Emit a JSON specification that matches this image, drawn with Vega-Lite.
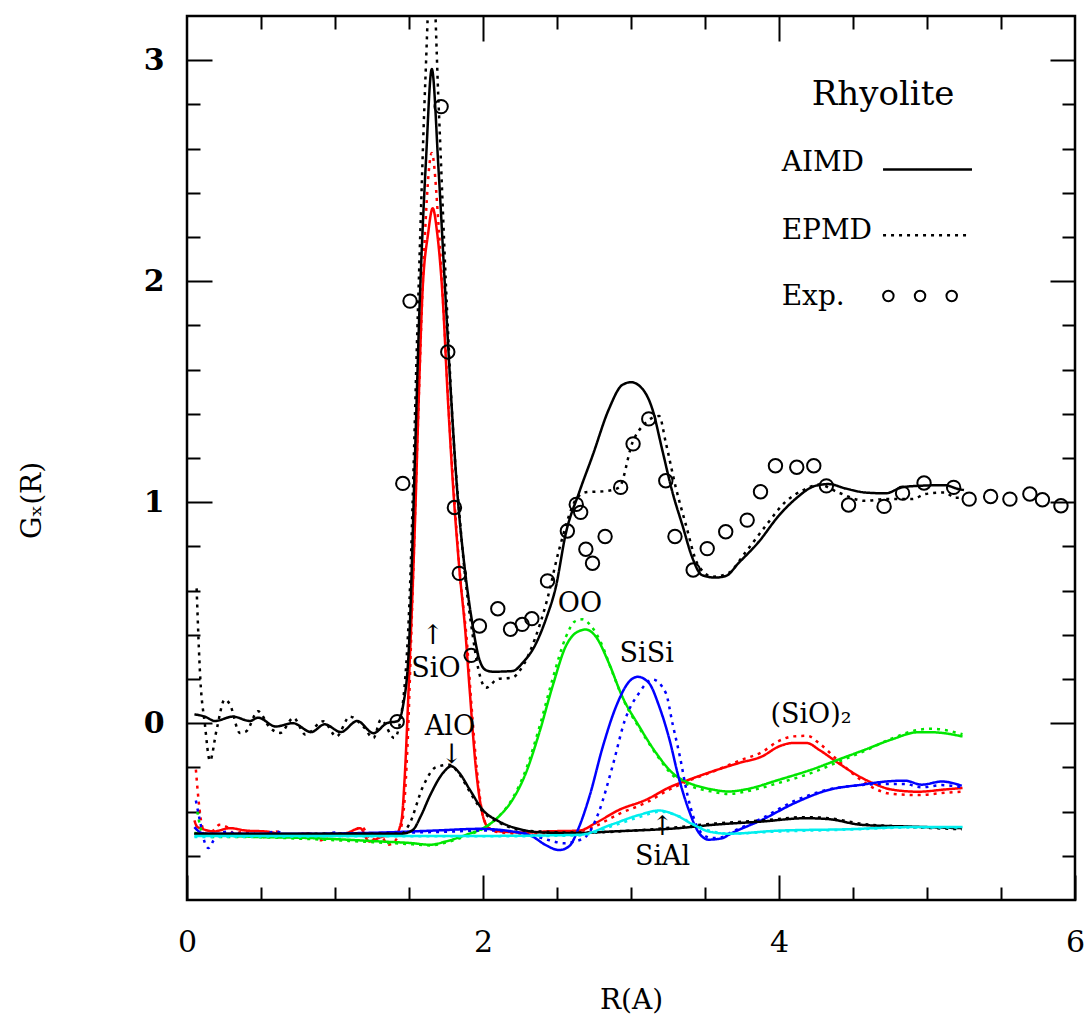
{
"$schema": "https://vega.github.io/schema/vega-lite/v6.json",
"width": 888, "height": 884,
"autosize": {"type": "none"},
"padding": {"left": 187, "top": 16, "right": 17, "bottom": 127},
"background": "white",
"config": {
  "view": {"stroke": "black", "strokeWidth": 2.5},
  "font": "DejaVu Serif",
  "axis": {"grid": false, "domain": false, "tickColor": "black", "tickWidth": 2, "labelColor": "black", "labelFont": "DejaVu Serif", "labelFontSize": 30, "titleFont": "DejaVu Serif", "titleFontSize": 28, "titleFontWeight": "normal", "titleColor": "black", "labelFlush": false, "labelOverlap": false}
},
"resolve": {"axis": {"x": "independent", "y": "independent"}},
"datasets": {
"lines": [
{"s":"SiO","m":"A","x":0.05,"y":-0.44},{"s":"SiO","m":"A","x":0.07,"y":-0.47},{"s":"SiO","m":"A","x":0.09,"y":-0.475},{"s":"SiO","m":"A","x":0.18,"y":-0.49},{"s":"SiO","m":"A","x":0.29,"y":-0.475},{"s":"SiO","m":"A","x":0.4,"y":-0.486},{"s":"SiO","m":"A","x":0.535,"y":-0.49},{"s":"SiO","m":"A","x":0.67,"y":-0.505},{"s":"SiO","m":"A","x":0.81,"y":-0.5},{"s":"SiO","m":"A","x":0.94,"y":-0.51},{"s":"SiO","m":"A","x":1.08,"y":-0.497},{"s":"SiO","m":"A","x":1.17,"y":-0.475},{"s":"SiO","m":"A","x":1.23,"y":-0.535},{"s":"SiO","m":"A","x":1.32,"y":-0.513},{"s":"SiO","m":"A","x":1.41,"y":-0.505},{"s":"SiO","m":"A","x":1.45,"y":-0.437},{"s":"SiO","m":"A","x":1.47,"y":-0.256},{"s":"SiO","m":"A","x":1.5,"y":0.2},{"s":"SiO","m":"A","x":1.54,"y":0.9},{"s":"SiO","m":"A","x":1.565,"y":1.45},{"s":"SiO","m":"A","x":1.589,"y":1.92},{"s":"SiO","m":"A","x":1.63,"y":2.22},{"s":"SiO","m":"A","x":1.66,"y":2.33},{"s":"SiO","m":"A","x":1.69,"y":2.22},{"s":"SiO","m":"A","x":1.728,"y":1.92},{"s":"SiO","m":"A","x":1.76,"y":1.5},{"s":"SiO","m":"A","x":1.8,"y":1.05},{"s":"SiO","m":"A","x":1.84,"y":0.7},{"s":"SiO","m":"A","x":1.88,"y":0.42},{"s":"SiO","m":"A","x":1.91,"y":0.15},{"s":"SiO","m":"A","x":1.95,"y":-0.19},{"s":"SiO","m":"A","x":1.995,"y":-0.407},{"s":"SiO","m":"A","x":2.04,"y":-0.475},{"s":"SiO","m":"A","x":2.12,"y":-0.49},{"s":"SiO","m":"A","x":2.3,"y":-0.495},{"s":"SiO","m":"A","x":2.42,"y":-0.49},{"s":"SiO","m":"A","x":2.65,"y":-0.486},{"s":"SiO","m":"A","x":2.76,"y":-0.452},{"s":"SiO","m":"A","x":2.92,"y":-0.392},{"s":"SiO","m":"A","x":3.1,"y":-0.347},{"s":"SiO","m":"A","x":3.26,"y":-0.29},{"s":"SiO","m":"A","x":3.39,"y":-0.256},{"s":"SiO","m":"A","x":3.55,"y":-0.218},{"s":"SiO","m":"A","x":3.73,"y":-0.18},{"s":"SiO","m":"A","x":3.886,"y":-0.15},{"s":"SiO","m":"A","x":4.0,"y":-0.105},{"s":"SiO","m":"A","x":4.09,"y":-0.09},{"s":"SiO","m":"A","x":4.19,"y":-0.09},{"s":"SiO","m":"A","x":4.27,"y":-0.12},{"s":"SiO","m":"A","x":4.4,"y":-0.18},{"s":"SiO","m":"A","x":4.54,"y":-0.24},{"s":"SiO","m":"A","x":4.63,"y":-0.27},{"s":"SiO","m":"A","x":4.76,"y":-0.3},{"s":"SiO","m":"A","x":4.94,"y":-0.31},{"s":"SiO","m":"A","x":5.12,"y":-0.3},{"s":"SiO","m":"A","x":5.24,"y":-0.293},
{"s":"SiO","m":"E","x":0.06,"y":-0.21},{"s":"SiO","m":"E","x":0.08,"y":-0.36},{"s":"SiO","m":"E","x":0.1,"y":-0.46},{"s":"SiO","m":"E","x":0.13,"y":-0.5},{"s":"SiO","m":"E","x":0.17,"y":-0.49},{"s":"SiO","m":"E","x":0.22,"y":-0.46},{"s":"SiO","m":"E","x":0.27,"y":-0.47},{"s":"SiO","m":"E","x":0.32,"y":-0.5},{"s":"SiO","m":"E","x":0.38,"y":-0.49},{"s":"SiO","m":"E","x":0.45,"y":-0.5},{"s":"SiO","m":"E","x":0.52,"y":-0.515},{"s":"SiO","m":"E","x":0.6,"y":-0.49},{"s":"SiO","m":"E","x":0.68,"y":-0.51},{"s":"SiO","m":"E","x":0.75,"y":-0.52},{"s":"SiO","m":"E","x":0.82,"y":-0.5},{"s":"SiO","m":"E","x":0.9,"y":-0.53},{"s":"SiO","m":"E","x":0.98,"y":-0.5},{"s":"SiO","m":"E","x":1.05,"y":-0.51},{"s":"SiO","m":"E","x":1.12,"y":-0.49},{"s":"SiO","m":"E","x":1.18,"y":-0.47},{"s":"SiO","m":"E","x":1.25,"y":-0.53},{"s":"SiO","m":"E","x":1.3,"y":-0.5},{"s":"SiO","m":"E","x":1.36,"y":-0.55},{"s":"SiO","m":"E","x":1.42,"y":-0.52},{"s":"SiO","m":"E","x":1.46,"y":-0.42},{"s":"SiO","m":"E","x":1.49,"y":-0.1},{"s":"SiO","m":"E","x":1.52,"y":0.5},{"s":"SiO","m":"E","x":1.56,"y":1.35},{"s":"SiO","m":"E","x":1.6,"y":2.1},{"s":"SiO","m":"E","x":1.654,"y":2.58},{"s":"SiO","m":"E","x":1.7,"y":2.25},{"s":"SiO","m":"E","x":1.735,"y":1.85},{"s":"SiO","m":"E","x":1.77,"y":1.4},{"s":"SiO","m":"E","x":1.81,"y":0.98},{"s":"SiO","m":"E","x":1.85,"y":0.63},{"s":"SiO","m":"E","x":1.89,"y":0.38},{"s":"SiO","m":"E","x":1.92,"y":0.1},{"s":"SiO","m":"E","x":1.96,"y":-0.22},{"s":"SiO","m":"E","x":2.0,"y":-0.42},{"s":"SiO","m":"E","x":2.05,"y":-0.48},{"s":"SiO","m":"E","x":2.12,"y":-0.495},{"s":"SiO","m":"E","x":2.3,"y":-0.5},{"s":"SiO","m":"E","x":2.5,"y":-0.495},{"s":"SiO","m":"E","x":2.65,"y":-0.49},{"s":"SiO","m":"E","x":2.76,"y":-0.465},{"s":"SiO","m":"E","x":2.92,"y":-0.41},{"s":"SiO","m":"E","x":3.1,"y":-0.36},{"s":"SiO","m":"E","x":3.26,"y":-0.3},{"s":"SiO","m":"E","x":3.39,"y":-0.26},{"s":"SiO","m":"E","x":3.55,"y":-0.22},{"s":"SiO","m":"E","x":3.73,"y":-0.17},{"s":"SiO","m":"E","x":3.886,"y":-0.13},{"s":"SiO","m":"E","x":4.0,"y":-0.08},{"s":"SiO","m":"E","x":4.09,"y":-0.06},{"s":"SiO","m":"E","x":4.19,"y":-0.057},{"s":"SiO","m":"E","x":4.27,"y":-0.09},{"s":"SiO","m":"E","x":4.4,"y":-0.17},{"s":"SiO","m":"E","x":4.54,"y":-0.25},{"s":"SiO","m":"E","x":4.63,"y":-0.29},{"s":"SiO","m":"E","x":4.76,"y":-0.32},{"s":"SiO","m":"E","x":4.94,"y":-0.325},{"s":"SiO","m":"E","x":5.12,"y":-0.315},{"s":"SiO","m":"E","x":5.24,"y":-0.31},
{"s":"OO","m":"A","x":0.05,"y":-0.497},{"s":"OO","m":"A","x":0.4,"y":-0.513},{"s":"OO","m":"A","x":0.85,"y":-0.52},{"s":"OO","m":"A","x":1.3,"y":-0.535},{"s":"OO","m":"A","x":1.526,"y":-0.543},{"s":"OO","m":"A","x":1.64,"y":-0.55},{"s":"OO","m":"A","x":1.75,"y":-0.535},{"s":"OO","m":"A","x":1.886,"y":-0.505},{"s":"OO","m":"A","x":2.02,"y":-0.468},{"s":"OO","m":"A","x":2.11,"y":-0.42},{"s":"OO","m":"A","x":2.2,"y":-0.346},{"s":"OO","m":"A","x":2.29,"y":-0.225},{"s":"OO","m":"A","x":2.38,"y":-0.044},{"s":"OO","m":"A","x":2.47,"y":0.167},{"s":"OO","m":"A","x":2.56,"y":0.349},{"s":"OO","m":"A","x":2.63,"y":0.41},{"s":"OO","m":"A","x":2.695,"y":0.424},{"s":"OO","m":"A","x":2.76,"y":0.394},{"s":"OO","m":"A","x":2.85,"y":0.273},{"s":"OO","m":"A","x":2.94,"y":0.122},{"s":"OO","m":"A","x":3.055,"y":-0.014},{"s":"OO","m":"A","x":3.17,"y":-0.135},{"s":"OO","m":"A","x":3.28,"y":-0.225},{"s":"OO","m":"A","x":3.39,"y":-0.27},{"s":"OO","m":"A","x":3.46,"y":-0.286},{"s":"OO","m":"A","x":3.55,"y":-0.3},{"s":"OO","m":"A","x":3.66,"y":-0.309},{"s":"OO","m":"A","x":3.77,"y":-0.3},{"s":"OO","m":"A","x":4.0,"y":-0.256},{"s":"OO","m":"A","x":4.22,"y":-0.21},{"s":"OO","m":"A","x":4.4,"y":-0.165},{"s":"OO","m":"A","x":4.58,"y":-0.12},{"s":"OO","m":"A","x":4.76,"y":-0.074},{"s":"OO","m":"A","x":4.94,"y":-0.041},{"s":"OO","m":"A","x":5.03,"y":-0.041},{"s":"OO","m":"A","x":5.24,"y":-0.06},
{"s":"OO","m":"E","x":0.07,"y":-0.4},{"s":"OO","m":"E","x":0.1,"y":-0.49},{"s":"OO","m":"E","x":0.15,"y":-0.515},{"s":"OO","m":"E","x":0.4,"y":-0.515},{"s":"OO","m":"E","x":0.85,"y":-0.525},{"s":"OO","m":"E","x":1.3,"y":-0.54},{"s":"OO","m":"E","x":1.526,"y":-0.548},{"s":"OO","m":"E","x":1.64,"y":-0.553},{"s":"OO","m":"E","x":1.75,"y":-0.54},{"s":"OO","m":"E","x":1.886,"y":-0.51},{"s":"OO","m":"E","x":2.02,"y":-0.47},{"s":"OO","m":"E","x":2.11,"y":-0.42},{"s":"OO","m":"E","x":2.2,"y":-0.34},{"s":"OO","m":"E","x":2.29,"y":-0.21},{"s":"OO","m":"E","x":2.38,"y":-0.02},{"s":"OO","m":"E","x":2.47,"y":0.2},{"s":"OO","m":"E","x":2.56,"y":0.39},{"s":"OO","m":"E","x":2.62,"y":0.46},{"s":"OO","m":"E","x":2.67,"y":0.47},{"s":"OO","m":"E","x":2.73,"y":0.44},{"s":"OO","m":"E","x":2.8,"y":0.36},{"s":"OO","m":"E","x":2.88,"y":0.22},{"s":"OO","m":"E","x":2.96,"y":0.09},{"s":"OO","m":"E","x":3.055,"y":-0.02},{"s":"OO","m":"E","x":3.17,"y":-0.14},{"s":"OO","m":"E","x":3.28,"y":-0.235},{"s":"OO","m":"E","x":3.39,"y":-0.28},{"s":"OO","m":"E","x":3.55,"y":-0.31},{"s":"OO","m":"E","x":3.66,"y":-0.32},{"s":"OO","m":"E","x":3.77,"y":-0.31},{"s":"OO","m":"E","x":4.0,"y":-0.27},{"s":"OO","m":"E","x":4.22,"y":-0.225},{"s":"OO","m":"E","x":4.4,"y":-0.175},{"s":"OO","m":"E","x":4.58,"y":-0.125},{"s":"OO","m":"E","x":4.76,"y":-0.07},{"s":"OO","m":"E","x":4.94,"y":-0.03},{"s":"OO","m":"E","x":5.03,"y":-0.025},{"s":"OO","m":"E","x":5.24,"y":-0.05},
{"s":"SiSi","m":"A","x":0.05,"y":-0.47},{"s":"SiSi","m":"A","x":0.08,"y":-0.49},{"s":"SiSi","m":"A","x":0.12,"y":-0.5},{"s":"SiSi","m":"A","x":0.3,"y":-0.5},{"s":"SiSi","m":"A","x":0.8,"y":-0.5},{"s":"SiSi","m":"A","x":1.3,"y":-0.495},{"s":"SiSi","m":"A","x":1.7,"y":-0.485},{"s":"SiSi","m":"A","x":1.976,"y":-0.478},{"s":"SiSi","m":"A","x":2.2,"y":-0.49},{"s":"SiSi","m":"A","x":2.335,"y":-0.513},{"s":"SiSi","m":"A","x":2.42,"y":-0.55},{"s":"SiSi","m":"A","x":2.515,"y":-0.574},{"s":"SiSi","m":"A","x":2.58,"y":-0.558},{"s":"SiSi","m":"A","x":2.65,"y":-0.468},{"s":"SiSi","m":"A","x":2.72,"y":-0.33},{"s":"SiSi","m":"A","x":2.81,"y":-0.105},{"s":"SiSi","m":"A","x":2.9,"y":0.077},{"s":"SiSi","m":"A","x":2.99,"y":0.19},{"s":"SiSi","m":"A","x":3.045,"y":0.21},{"s":"SiSi","m":"A","x":3.12,"y":0.183},{"s":"SiSi","m":"A","x":3.19,"y":0.077},{"s":"SiSi","m":"A","x":3.26,"y":-0.074},{"s":"SiSi","m":"A","x":3.32,"y":-0.24},{"s":"SiSi","m":"A","x":3.39,"y":-0.392},{"s":"SiSi","m":"A","x":3.46,"y":-0.497},{"s":"SiSi","m":"A","x":3.526,"y":-0.527},{"s":"SiSi","m":"A","x":3.62,"y":-0.52},{"s":"SiSi","m":"A","x":3.66,"y":-0.505},{"s":"SiSi","m":"A","x":3.886,"y":-0.437},{"s":"SiSi","m":"A","x":4.11,"y":-0.36},{"s":"SiSi","m":"A","x":4.335,"y":-0.302},{"s":"SiSi","m":"A","x":4.56,"y":-0.278},{"s":"SiSi","m":"A","x":4.72,"y":-0.264},{"s":"SiSi","m":"A","x":4.85,"y":-0.26},{"s":"SiSi","m":"A","x":4.965,"y":-0.278},{"s":"SiSi","m":"A","x":5.1,"y":-0.264},{"s":"SiSi","m":"A","x":5.235,"y":-0.283},
{"s":"SiSi","m":"E","x":0.06,"y":-0.35},{"s":"SiSi","m":"E","x":0.09,"y":-0.45},{"s":"SiSi","m":"E","x":0.12,"y":-0.54},{"s":"SiSi","m":"E","x":0.145,"y":-0.565},{"s":"SiSi","m":"E","x":0.18,"y":-0.53},{"s":"SiSi","m":"E","x":0.22,"y":-0.5},{"s":"SiSi","m":"E","x":0.28,"y":-0.49},{"s":"SiSi","m":"E","x":0.35,"y":-0.51},{"s":"SiSi","m":"E","x":0.42,"y":-0.5},{"s":"SiSi","m":"E","x":0.5,"y":-0.505},{"s":"SiSi","m":"E","x":0.6,"y":-0.49},{"s":"SiSi","m":"E","x":0.7,"y":-0.51},{"s":"SiSi","m":"E","x":0.8,"y":-0.5},{"s":"SiSi","m":"E","x":0.9,"y":-0.505},{"s":"SiSi","m":"E","x":1.0,"y":-0.495},{"s":"SiSi","m":"E","x":1.1,"y":-0.505},{"s":"SiSi","m":"E","x":1.2,"y":-0.5},{"s":"SiSi","m":"E","x":1.5,"y":-0.495},{"s":"SiSi","m":"E","x":1.8,"y":-0.49},{"s":"SiSi","m":"E","x":2.0,"y":-0.485},{"s":"SiSi","m":"E","x":2.2,"y":-0.49},{"s":"SiSi","m":"E","x":2.35,"y":-0.51},{"s":"SiSi","m":"E","x":2.45,"y":-0.53},{"s":"SiSi","m":"E","x":2.55,"y":-0.543},{"s":"SiSi","m":"E","x":2.62,"y":-0.535},{"s":"SiSi","m":"E","x":2.695,"y":-0.513},{"s":"SiSi","m":"E","x":2.78,"y":-0.407},{"s":"SiSi","m":"E","x":2.875,"y":-0.195},{"s":"SiSi","m":"E","x":2.96,"y":0.016},{"s":"SiSi","m":"E","x":3.055,"y":0.137},{"s":"SiSi","m":"E","x":3.145,"y":0.198},{"s":"SiSi","m":"E","x":3.235,"y":0.137},{"s":"SiSi","m":"E","x":3.28,"y":0.0},{"s":"SiSi","m":"E","x":3.33,"y":-0.15},{"s":"SiSi","m":"E","x":3.38,"y":-0.32},{"s":"SiSi","m":"E","x":3.43,"y":-0.44},{"s":"SiSi","m":"E","x":3.48,"y":-0.5},{"s":"SiSi","m":"E","x":3.55,"y":-0.52},{"s":"SiSi","m":"E","x":3.62,"y":-0.515},{"s":"SiSi","m":"E","x":3.66,"y":-0.5},{"s":"SiSi","m":"E","x":3.886,"y":-0.43},{"s":"SiSi","m":"E","x":4.11,"y":-0.35},{"s":"SiSi","m":"E","x":4.335,"y":-0.3},{"s":"SiSi","m":"E","x":4.56,"y":-0.28},{"s":"SiSi","m":"E","x":4.72,"y":-0.275},{"s":"SiSi","m":"E","x":4.85,"y":-0.275},{"s":"SiSi","m":"E","x":4.965,"y":-0.29},{"s":"SiSi","m":"E","x":5.1,"y":-0.28},{"s":"SiSi","m":"E","x":5.235,"y":-0.29},
{"s":"AlO","m":"A","x":0.05,"y":-0.5},{"s":"AlO","m":"A","x":0.5,"y":-0.5},{"s":"AlO","m":"A","x":1.0,"y":-0.5},{"s":"AlO","m":"A","x":1.45,"y":-0.5},{"s":"AlO","m":"A","x":1.526,"y":-0.483},{"s":"AlO","m":"A","x":1.58,"y":-0.42},{"s":"AlO","m":"A","x":1.64,"y":-0.33},{"s":"AlO","m":"A","x":1.73,"y":-0.225},{"s":"AlO","m":"A","x":1.785,"y":-0.195},{"s":"AlO","m":"A","x":1.84,"y":-0.225},{"s":"AlO","m":"A","x":1.91,"y":-0.3},{"s":"AlO","m":"A","x":1.998,"y":-0.392},{"s":"AlO","m":"A","x":2.11,"y":-0.445},{"s":"AlO","m":"A","x":2.27,"y":-0.483},{"s":"AlO","m":"A","x":2.42,"y":-0.495},{"s":"AlO","m":"A","x":2.65,"y":-0.497},{"s":"AlO","m":"A","x":2.87,"y":-0.49},{"s":"AlO","m":"A","x":3.32,"y":-0.475},{"s":"AlO","m":"A","x":3.55,"y":-0.46},{"s":"AlO","m":"A","x":3.886,"y":-0.445},{"s":"AlO","m":"A","x":4.18,"y":-0.43},{"s":"AlO","m":"A","x":4.335,"y":-0.434},{"s":"AlO","m":"A","x":4.56,"y":-0.46},{"s":"AlO","m":"A","x":4.9,"y":-0.468},{"s":"AlO","m":"A","x":5.235,"y":-0.475},
{"s":"AlO","m":"E","x":0.05,"y":-0.5},{"s":"AlO","m":"E","x":0.5,"y":-0.505},{"s":"AlO","m":"E","x":1.0,"y":-0.5},{"s":"AlO","m":"E","x":1.45,"y":-0.5},{"s":"AlO","m":"E","x":1.5,"y":-0.46},{"s":"AlO","m":"E","x":1.595,"y":-0.286},{"s":"AlO","m":"E","x":1.68,"y":-0.2},{"s":"AlO","m":"E","x":1.773,"y":-0.188},{"s":"AlO","m":"E","x":1.84,"y":-0.23},{"s":"AlO","m":"E","x":1.91,"y":-0.31},{"s":"AlO","m":"E","x":2.0,"y":-0.4},{"s":"AlO","m":"E","x":2.11,"y":-0.45},{"s":"AlO","m":"E","x":2.27,"y":-0.485},{"s":"AlO","m":"E","x":2.65,"y":-0.495},{"s":"AlO","m":"E","x":3.32,"y":-0.47},{"s":"AlO","m":"E","x":3.55,"y":-0.455},{"s":"AlO","m":"E","x":3.886,"y":-0.44},{"s":"AlO","m":"E","x":4.18,"y":-0.425},{"s":"AlO","m":"E","x":4.335,"y":-0.43},{"s":"AlO","m":"E","x":4.56,"y":-0.455},{"s":"AlO","m":"E","x":4.9,"y":-0.47},{"s":"AlO","m":"E","x":5.235,"y":-0.48},
{"s":"SiAl","m":"A","x":0.05,"y":-0.51},{"s":"SiAl","m":"A","x":1.0,"y":-0.51},{"s":"SiAl","m":"A","x":2.0,"y":-0.51},{"s":"SiAl","m":"A","x":2.65,"y":-0.505},{"s":"SiAl","m":"A","x":2.875,"y":-0.457},{"s":"SiAl","m":"A","x":3.055,"y":-0.415},{"s":"SiAl","m":"A","x":3.19,"y":-0.395},{"s":"SiAl","m":"A","x":3.3,"y":-0.415},{"s":"SiAl","m":"A","x":3.41,"y":-0.455},{"s":"SiAl","m":"A","x":3.526,"y":-0.49},{"s":"SiAl","m":"A","x":3.66,"y":-0.5},{"s":"SiAl","m":"A","x":4.0,"y":-0.486},{"s":"SiAl","m":"A","x":4.45,"y":-0.48},{"s":"SiAl","m":"A","x":4.9,"y":-0.47},{"s":"SiAl","m":"A","x":5.24,"y":-0.47},
{"s":"SiAl","m":"E","x":0.05,"y":-0.515},{"s":"SiAl","m":"E","x":1.0,"y":-0.512},{"s":"SiAl","m":"E","x":2.0,"y":-0.512},{"s":"SiAl","m":"E","x":2.65,"y":-0.508},{"s":"SiAl","m":"E","x":2.875,"y":-0.465},{"s":"SiAl","m":"E","x":3.055,"y":-0.425},{"s":"SiAl","m":"E","x":3.2,"y":-0.4},{"s":"SiAl","m":"E","x":3.32,"y":-0.42},{"s":"SiAl","m":"E","x":3.43,"y":-0.46},{"s":"SiAl","m":"E","x":3.55,"y":-0.49},{"s":"SiAl","m":"E","x":3.66,"y":-0.5},{"s":"SiAl","m":"E","x":4.0,"y":-0.49},{"s":"SiAl","m":"E","x":4.45,"y":-0.482},{"s":"SiAl","m":"E","x":4.9,"y":-0.472},{"s":"SiAl","m":"E","x":5.24,"y":-0.472},
{"s":"tot","m":"A","x":0.05,"y":0.04},{"s":"tot","m":"A","x":0.12,"y":0.03},{"s":"tot","m":"A","x":0.19,"y":0.01},{"s":"tot","m":"A","x":0.31,"y":0.03},{"s":"tot","m":"A","x":0.425,"y":0.01},{"s":"tot","m":"A","x":0.48,"y":0.025},{"s":"tot","m":"A","x":0.6,"y":-0.015},{"s":"tot","m":"A","x":0.715,"y":0.0},{"s":"tot","m":"A","x":0.84,"y":-0.04},{"s":"tot","m":"A","x":0.93,"y":-0.005},{"s":"tot","m":"A","x":1.04,"y":-0.04},{"s":"tot","m":"A","x":1.15,"y":0.01},{"s":"tot","m":"A","x":1.26,"y":-0.045},{"s":"tot","m":"A","x":1.35,"y":0.0},{"s":"tot","m":"A","x":1.425,"y":0.01},{"s":"tot","m":"A","x":1.46,"y":0.08},{"s":"tot","m":"A","x":1.5,"y":0.35},{"s":"tot","m":"A","x":1.54,"y":1.2},{"s":"tot","m":"A","x":1.57,"y":1.86},{"s":"tot","m":"A","x":1.615,"y":2.55},{"s":"tot","m":"A","x":1.654,"y":2.96},{"s":"tot","m":"A","x":1.7,"y":2.5},{"s":"tot","m":"A","x":1.745,"y":1.95},{"s":"tot","m":"A","x":1.785,"y":1.47},{"s":"tot","m":"A","x":1.83,"y":1.015},{"s":"tot","m":"A","x":1.875,"y":0.71},{"s":"tot","m":"A","x":1.92,"y":0.485},{"s":"tot","m":"A","x":1.975,"y":0.29},{"s":"tot","m":"A","x":2.02,"y":0.24},{"s":"tot","m":"A","x":2.07,"y":0.233},{"s":"tot","m":"A","x":2.2,"y":0.236},{"s":"tot","m":"A","x":2.27,"y":0.275},{"s":"tot","m":"A","x":2.35,"y":0.35},{"s":"tot","m":"A","x":2.43,"y":0.48},{"s":"tot","m":"A","x":2.49,"y":0.61},{"s":"tot","m":"A","x":2.56,"y":0.86},{"s":"tot","m":"A","x":2.65,"y":1.045},{"s":"tot","m":"A","x":2.74,"y":1.21},{"s":"tot","m":"A","x":2.85,"y":1.42},{"s":"tot","m":"A","x":2.94,"y":1.53},{"s":"tot","m":"A","x":3.0,"y":1.543},{"s":"tot","m":"A","x":3.077,"y":1.513},{"s":"tot","m":"A","x":3.145,"y":1.42},{"s":"tot","m":"A","x":3.21,"y":1.24},{"s":"tot","m":"A","x":3.28,"y":1.045},{"s":"tot","m":"A","x":3.35,"y":0.89},{"s":"tot","m":"A","x":3.41,"y":0.757},{"s":"tot","m":"A","x":3.48,"y":0.67},{"s":"tot","m":"A","x":3.57,"y":0.659},{"s":"tot","m":"A","x":3.64,"y":0.666},{"s":"tot","m":"A","x":3.73,"y":0.727},{"s":"tot","m":"A","x":3.86,"y":0.818},{"s":"tot","m":"A","x":4.0,"y":0.94},{"s":"tot","m":"A","x":4.11,"y":1.014},{"s":"tot","m":"A","x":4.245,"y":1.074},{"s":"tot","m":"A","x":4.335,"y":1.082},{"s":"tot","m":"A","x":4.45,"y":1.062},{"s":"tot","m":"A","x":4.58,"y":1.044},{"s":"tot","m":"A","x":4.72,"y":1.04},{"s":"tot","m":"A","x":4.83,"y":1.067},{"s":"tot","m":"A","x":4.94,"y":1.074},{"s":"tot","m":"A","x":5.12,"y":1.077},{"s":"tot","m":"A","x":5.21,"y":1.06},{"s":"tot","m":"A","x":5.25,"y":1.055},
{"s":"tot","m":"E","x":0.065,"y":0.61},{"s":"tot","m":"E","x":0.09,"y":0.2},{"s":"tot","m":"E","x":0.12,"y":0.0},{"s":"tot","m":"E","x":0.155,"y":-0.17},{"s":"tot","m":"E","x":0.2,"y":-0.03},{"s":"tot","m":"E","x":0.255,"y":0.107},{"s":"tot","m":"E","x":0.29,"y":0.085},{"s":"tot","m":"E","x":0.357,"y":-0.044},{"s":"tot","m":"E","x":0.4,"y":-0.037},{"s":"tot","m":"E","x":0.48,"y":0.054},{"s":"tot","m":"E","x":0.56,"y":-0.02},{"s":"tot","m":"E","x":0.63,"y":-0.044},{"s":"tot","m":"E","x":0.72,"y":0.024},{"s":"tot","m":"E","x":0.8,"y":-0.052},{"s":"tot","m":"E","x":0.92,"y":0.009},{"s":"tot","m":"E","x":1.01,"y":-0.06},{"s":"tot","m":"E","x":1.1,"y":0.03},{"s":"tot","m":"E","x":1.19,"y":-0.014},{"s":"tot","m":"E","x":1.26,"y":-0.067},{"s":"tot","m":"E","x":1.31,"y":0.016},{"s":"tot","m":"E","x":1.4,"y":-0.067},{"s":"tot","m":"E","x":1.45,"y":0.047},{"s":"tot","m":"E","x":1.5,"y":0.5},{"s":"tot","m":"E","x":1.56,"y":1.86},{"s":"tot","m":"E","x":1.61,"y":2.9},{"s":"tot","m":"E","x":1.654,"y":3.5},{"s":"tot","m":"E","x":1.7,"y":2.8},{"s":"tot","m":"E","x":1.755,"y":1.9},{"s":"tot","m":"E","x":1.8,"y":1.3},{"s":"tot","m":"E","x":1.84,"y":0.95},{"s":"tot","m":"E","x":1.88,"y":0.66},{"s":"tot","m":"E","x":1.93,"y":0.4},{"s":"tot","m":"E","x":1.97,"y":0.24},{"s":"tot","m":"E","x":2.02,"y":0.16},{"s":"tot","m":"E","x":2.1,"y":0.2},{"s":"tot","m":"E","x":2.2,"y":0.207},{"s":"tot","m":"E","x":2.27,"y":0.26},{"s":"tot","m":"E","x":2.35,"y":0.38},{"s":"tot","m":"E","x":2.43,"y":0.55},{"s":"tot","m":"E","x":2.515,"y":0.787},{"s":"tot","m":"E","x":2.63,"y":1.014},{"s":"tot","m":"E","x":2.695,"y":1.045},{"s":"tot","m":"E","x":2.83,"y":1.05},{"s":"tot","m":"E","x":2.92,"y":1.067},{"s":"tot","m":"E","x":3.01,"y":1.27},{"s":"tot","m":"E","x":3.1,"y":1.36},{"s":"tot","m":"E","x":3.19,"y":1.39},{"s":"tot","m":"E","x":3.235,"y":1.27},{"s":"tot","m":"E","x":3.3,"y":1.074},{"s":"tot","m":"E","x":3.37,"y":0.9},{"s":"tot","m":"E","x":3.45,"y":0.72},{"s":"tot","m":"E","x":3.55,"y":0.663},{"s":"tot","m":"E","x":3.66,"y":0.68},{"s":"tot","m":"E","x":3.77,"y":0.77},{"s":"tot","m":"E","x":3.91,"y":0.893},{"s":"tot","m":"E","x":4.04,"y":0.999},{"s":"tot","m":"E","x":4.18,"y":1.06},{"s":"tot","m":"E","x":4.27,"y":1.08},{"s":"tot","m":"E","x":4.4,"y":1.044},{"s":"tot","m":"E","x":4.58,"y":1.006},{"s":"tot","m":"E","x":4.72,"y":1.014},{"s":"tot","m":"E","x":4.9,"y":1.014},{"s":"tot","m":"E","x":4.99,"y":1.037},{"s":"tot","m":"E","x":5.12,"y":1.044},{"s":"tot","m":"E","x":5.19,"y":1.02},{"s":"tot","m":"E","x":5.25,"y":1.02}
],
"exp": [
{"x":1.42,"y":0.007},{"x":1.458,"y":1.085},{"x":1.507,"y":1.91},{"x":1.717,"y":2.79},{"x":1.762,"y":1.68},{"x":1.807,"y":0.976},{"x":1.84,"y":0.678},{"x":1.92,"y":0.307},{"x":1.976,"y":0.44},{"x":2.1,"y":0.518},{"x":2.186,"y":0.425},{"x":2.265,"y":0.447},{"x":2.33,"y":0.473},{"x":2.436,"y":0.644},{"x":2.57,"y":0.87},{"x":2.63,"y":0.99},{"x":2.66,"y":0.954},{"x":2.695,"y":0.787},{"x":2.74,"y":0.724},{"x":2.825,"y":0.845},{"x":2.93,"y":1.067},{"x":3.014,"y":1.264},{"x":3.12,"y":1.377},{"x":3.235,"y":1.097},{"x":3.297,"y":0.845},{"x":3.42,"y":0.693},{"x":3.515,"y":0.79},{"x":3.64,"y":0.866},{"x":3.785,"y":0.919},{"x":3.875,"y":1.047},{"x":3.976,"y":1.165},{"x":4.12,"y":1.158},{"x":4.235,"y":1.165},{"x":4.32,"y":1.074},{"x":4.47,"y":0.987},{"x":4.71,"y":0.981},{"x":4.835,"y":1.041},{"x":4.98,"y":1.087},{"x":5.18,"y":1.067},{"x":5.285,"y":1.014},{"x":5.43,"y":1.026},{"x":5.56,"y":1.014},{"x":5.695,"y":1.037},{"x":5.78,"y":1.011},{"x":5.905,"y":0.984}
],
"ann": [
{"t":"SiO","x":1.682,"y":0.245},{"t":"↑","x":1.662,"y":0.393},{"t":"AlO","x":1.777,"y":-0.015},{"t":"↓","x":1.79,"y":-0.142},{"t":"OO","x":2.655,"y":0.538},{"t":"SiSi","x":3.106,"y":0.311},{"t":"(SiO)₂","x":4.216,"y":0.035},{"t":"SiAl","x":3.213,"y":-0.605},{"t":"↑","x":3.214,"y":-0.469}
],
"legtext": [
{"t":"AIMD","x":4.018,"y":2.497},{"t":"EPMD","x":4.018,"y":2.193},{"t":"Exp.","x":4.018,"y":1.894}
],
"title": [{"t":"Rhyolite","x":4.221,"y":2.796}],
"legrule": [{"m":"A","x":4.703,"x2":5.304,"y":2.505},{"m":"E","x":4.703,"x2":5.277,"y":2.208}],
"legpts": [{"x":4.739,"y":1.933},{"x":4.953,"y":1.933},{"x":5.167,"y":1.933}]
},
"layer": [
{
 "data": {"name": "lines"},
 "mark": {"type": "line", "clip": true, "strokeWidth": 2.5, "interpolate": "monotone"},
 "encoding": {
  "x": {"field": "x", "type": "quantitative", "scale": {"domain": [0, 6], "nice": false, "zero": false},
        "axis": {"orient": "bottom", "values": [0, 2, 4, 6], "tickSize": -25, "labelPadding": 52, "title": "R(A)", "titleY": 100, "titleBaseline": "middle"}},
  "y": {"field": "y", "type": "quantitative", "scale": {"domain": [-0.8, 3.2], "nice": false, "zero": false},
        "axis": {"orient": "left", "values": [0, 1, 2, 3], "tickSize": -25, "labelPadding": 48, "labelFontWeight": "bold", "title": "Gₓ(R)", "titleX": -155, "titleY": 484, "titleBaseline": "middle"}},
  "color": {"field": "s", "type": "nominal", "scale": {"domain": ["SiO", "OO", "SiSi", "AlO", "SiAl", "tot"], "range": ["#ff0000", "#00e600", "#0000ff", "#000000", "#00eeee", "#000000"]}, "legend": null},
  "strokeDash": {"field": "m", "type": "nominal", "scale": {"domain": ["A", "E"], "range": [[1, 0], [3, 5]]}, "legend": null}
 }
},
{
 "data": {"name": "exp"},
 "mark": {"type": "point", "shape": "circle", "filled": false, "stroke": "black", "strokeWidth": 2, "size": 180, "opacity": 1},
 "encoding": {
  "x": {"field": "x", "type": "quantitative", "axis": {"orient": "bottom", "values": [0.5, 1, 1.5, 2.5, 3, 3.5, 4.5, 5, 5.5], "tickSize": -13, "labels": false, "title": null}},
  "y": {"field": "y", "type": "quantitative", "axis": {"orient": "left", "values": [-0.6, -0.4, -0.2, 0.2, 0.4, 0.6, 0.8, 1.2, 1.4, 1.6, 1.8, 2.2, 2.4, 2.6, 2.8], "tickSize": -13, "labels": false, "title": null}}
 }
},
{
 "data": {"name": "ann"},
 "mark": {"type": "text", "fontSize": 27, "font": "DejaVu Serif", "color": "black", "align": "center", "baseline": "middle"},
 "encoding": {
  "x": {"field": "x", "type": "quantitative", "axis": {"orient": "top", "values": [2, 4], "tickSize": -25, "labels": false, "title": null}},
  "y": {"field": "y", "type": "quantitative", "axis": {"orient": "right", "values": [0, 1, 2, 3], "tickSize": -25, "labels": false, "title": null}},
  "text": {"field": "t"}
 }
},
{
 "data": {"name": "legtext"},
 "mark": {"type": "text", "fontSize": 28, "font": "DejaVu Serif", "color": "black", "align": "left", "baseline": "alphabetic"},
 "encoding": {
  "x": {"field": "x", "type": "quantitative", "axis": {"orient": "top", "values": [0.5, 1, 1.5, 2.5, 3, 3.5, 4.5, 5, 5.5], "tickSize": -13, "labels": false, "title": null}},
  "y": {"field": "y", "type": "quantitative", "axis": {"orient": "right", "values": [-0.6, -0.4, -0.2, 0.2, 0.4, 0.6, 0.8, 1.2, 1.4, 1.6, 1.8, 2.2, 2.4, 2.6, 2.8], "tickSize": -13, "labels": false, "title": null}},
  "text": {"field": "t"}
 }
},
{
 "data": {"name": "title"},
 "mark": {"type": "text", "fontSize": 34, "font": "DejaVu Serif", "color": "black", "align": "left", "baseline": "alphabetic"},
 "encoding": {
  "x": {"field": "x", "type": "quantitative", "axis": null},
  "y": {"field": "y", "type": "quantitative", "axis": null},
  "text": {"field": "t"}
 }
},
{
 "data": {"name": "legrule"},
 "mark": {"type": "rule", "strokeWidth": 2.5, "color": "black"},
 "encoding": {
  "x": {"field": "x", "type": "quantitative", "axis": null},
  "x2": {"field": "x2"},
  "y": {"field": "y", "type": "quantitative", "axis": null},
  "strokeDash": {"field": "m", "type": "nominal", "legend": null}
 }
},
{
 "data": {"name": "legpts"},
 "mark": {"type": "point", "shape": "circle", "filled": false, "stroke": "black", "strokeWidth": 2, "size": 110, "opacity": 1},
 "encoding": {
  "x": {"field": "x", "type": "quantitative", "axis": null},
  "y": {"field": "y", "type": "quantitative", "axis": null}
 }
}
]
}
